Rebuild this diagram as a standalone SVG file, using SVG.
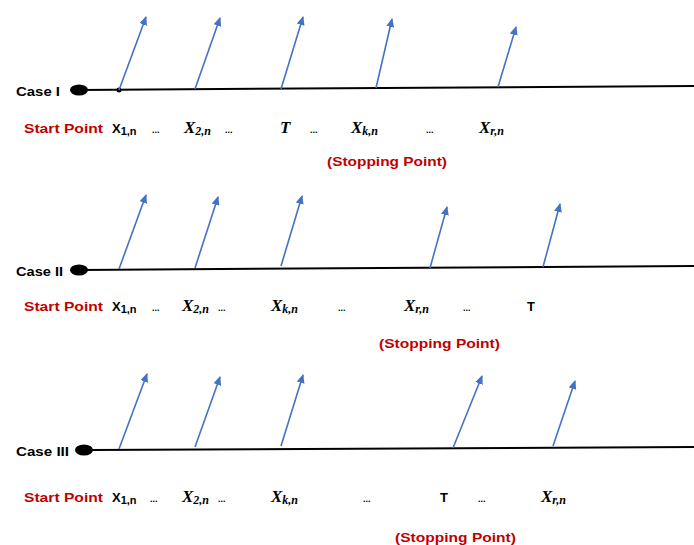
<svg xmlns="http://www.w3.org/2000/svg" width="694" height="545" viewBox="0 0 694 545">
<style>
.bg{fill:#fff}
.axis{stroke:#000;stroke-width:2;fill:none}
.dot{fill:#000}
.arr{stroke:#4472C4;stroke-width:1.6;fill:none;marker-end:url(#ah)}
.lab{font-family:"Liberation Sans",Arial,sans-serif;font-weight:bold;font-size:13px;fill:#000}
.red{font-family:"Liberation Sans",Arial,sans-serif;font-weight:bold;font-size:13px;fill:#C00000}
.sx{font-family:"Liberation Sans",Arial,sans-serif;font-weight:bold;font-size:13px;fill:#000}
.mx{font-family:"Liberation Serif","Times New Roman",serif;font-weight:bold;font-style:italic;font-size:17px;fill:#000}
.sub{font-size:11px}
.msub{font-size:12px}
.dd{font-family:"Liberation Sans",Arial,sans-serif;font-weight:bold;font-size:9px;fill:#000}
</style>
<defs>
<marker id="ah" markerUnits="userSpaceOnUse" markerWidth="10" markerHeight="8" refX="8" refY="4" orient="auto">
<path d="M0,0 L9,4 L0,8 Z" fill="#4472C4"/>
</marker>
</defs>
<rect class="bg" width="694" height="545"/>

<g id="case1">
<line class="axis" x1="80" y1="90" x2="694" y2="86"/>
<ellipse class="dot" cx="79" cy="90" rx="9" ry="5.5"/>
<circle class="dot" cx="119" cy="90" r="2.5"/>
<text class="lab" x="16" y="96" textLength="44" lengthAdjust="spacingAndGlyphs">Case I</text>
<text class="red" x="24" y="133" textLength="79" lengthAdjust="spacingAndGlyphs">Start Point</text>
<text class="sx" x="112" y="133">X<tspan class="sub" dy="2">1,n</tspan></text>
<text class="dd" x="152" y="133">...</text>
<text class="mx" x="184" y="133">X<tspan class="msub" dy="2">2,n</tspan></text>
<text class="dd" x="225" y="133">...</text>
<text class="mx" x="280" y="133">T</text>
<text class="dd" x="310" y="133">...</text>
<text class="mx" x="351" y="133">X<tspan class="msub" dy="2">k,n</tspan></text>
<text class="dd" x="426" y="133">...</text>
<text class="mx" x="479" y="133">X<tspan class="msub" dy="2">r,n</tspan></text>
<text class="red" x="327" y="166" textLength="120" lengthAdjust="spacingAndGlyphs">(Stopping Point)</text>
</g>

<g id="case2">
<line class="axis" x1="80" y1="270" x2="694" y2="266"/>
<ellipse class="dot" cx="79" cy="270" rx="9" ry="5.5"/>
<text class="lab" x="16" y="276" textLength="47" lengthAdjust="spacingAndGlyphs">Case II</text>
<text class="red" x="24" y="311" textLength="79" lengthAdjust="spacingAndGlyphs">Start Point</text>
<text class="sx" x="112" y="311">X<tspan class="sub" dy="2">1,n</tspan></text>
<text class="dd" x="152" y="311">...</text>
<text class="mx" x="182" y="311">X<tspan class="msub" dy="2">2,n</tspan></text>
<text class="dd" x="218" y="311">...</text>
<text class="mx" x="271" y="311">X<tspan class="msub" dy="2">k,n</tspan></text>
<text class="dd" x="338" y="311">...</text>
<text class="mx" x="404" y="311">X<tspan class="msub" dy="2">r,n</tspan></text>
<text class="dd" x="463" y="311">...</text>
<text class="sx" x="527" y="311">T</text>
<text class="red" x="379" y="348" textLength="121" lengthAdjust="spacingAndGlyphs">(Stopping Point)</text>
</g>

<g id="case3">
<line class="axis" x1="90" y1="450" x2="694" y2="447"/>
<ellipse class="dot" cx="84" cy="450" rx="9" ry="5.5"/>
<text class="lab" x="16" y="456" textLength="53" lengthAdjust="spacingAndGlyphs">Case III</text>
<text class="red" x="24" y="502" textLength="79" lengthAdjust="spacingAndGlyphs">Start Point</text>
<text class="sx" x="112" y="502">X<tspan class="sub" dy="2">1,n</tspan></text>
<text class="dd" x="150" y="502">...</text>
<text class="mx" x="182" y="502">X<tspan class="msub" dy="2">2,n</tspan></text>
<text class="dd" x="218" y="502">...</text>
<text class="mx" x="271" y="502">X<tspan class="msub" dy="2">k,n</tspan></text>
<text class="dd" x="363" y="502">...</text>
<text class="sx" x="440" y="502">T</text>
<text class="dd" x="478" y="502">...</text>
<text class="mx" x="541" y="502">X<tspan class="msub" dy="2">r,n</tspan></text>
<text class="red" x="395" y="542" textLength="121" lengthAdjust="spacingAndGlyphs">(Stopping Point)</text>
</g>

<g id="connectors">
<line class="arr" x1="119" y1="90" x2="146" y2="17"/>
<line class="arr" x1="195" y1="89" x2="220" y2="18"/>
<line class="arr" x1="281" y1="89" x2="303" y2="17"/>
<line class="arr" x1="376" y1="88" x2="392" y2="19"/>
<line class="arr" x1="498" y1="87" x2="516" y2="27"/>

<line class="arr" x1="119" y1="269" x2="146" y2="195"/>
<line class="arr" x1="195" y1="268" x2="218" y2="197"/>
<line class="arr" x1="281" y1="266" x2="302" y2="196"/>
<line class="arr" x1="430" y1="268" x2="447" y2="207"/>
<line class="arr" x1="543" y1="267" x2="560" y2="204"/>

<line class="arr" x1="119" y1="449" x2="147" y2="374"/>
<line class="arr" x1="195" y1="447" x2="220" y2="377"/>
<line class="arr" x1="281" y1="446" x2="303" y2="375"/>
<line class="arr" x1="453" y1="448" x2="482" y2="376"/>
<line class="arr" x1="553" y1="446" x2="575" y2="381"/>
</g>
</svg>
